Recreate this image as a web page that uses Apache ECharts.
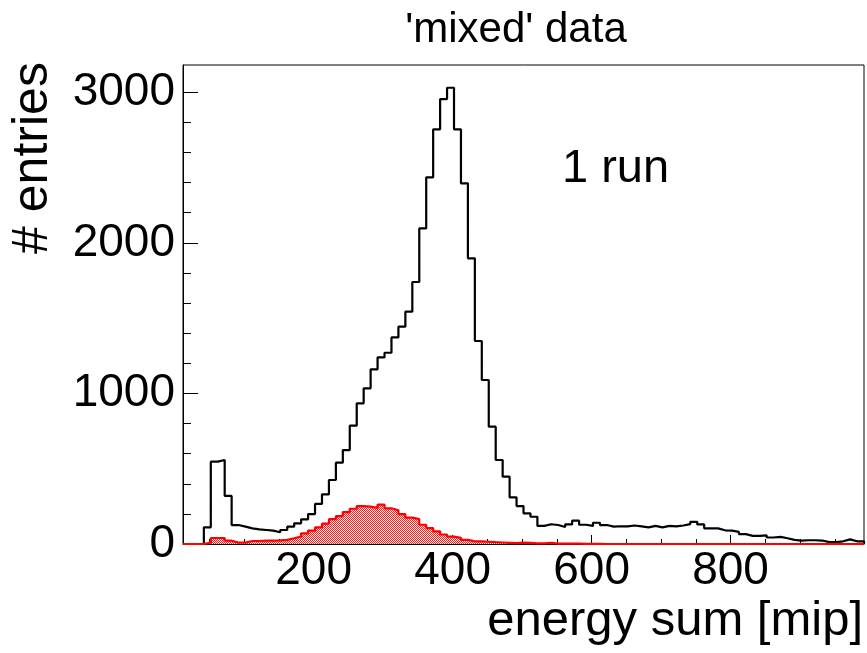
<!DOCTYPE html>
<html><head><meta charset="utf-8">
<script src="https://cdn.jsdelivr.net/npm/echarts@6/dist/echarts.min.js"></script>
<style>html,body{margin:0;padding:0;background:#fff}#c{width:867px;height:653px}</style>
</head><body><div id="c"></div>
<script>
// ---- data ----
const binStart = 12;          // lower edge of first bin [mip]
const binWidth = 10;          // bin width [mip]
const xRange = [12, 992];
const yRange = [0, 3181];
const xMajorTicks = [200, 400, 600, 800];
const xMinorTicks = [50,100,150,250,300,350,450,500,550,650,700,750,850,900,950];
const yMajorTicks = [0, 1000, 2000, 3000];
const yMinorTicks = [200,400,600,800,1200,1400,1600,1800,2200,2400,2600,2800];
// 'mixed' data, all events (black)
const mixedCounts = [
  0,0,0,111,547,558,319,126,115,104,
  97,93,89,78,93,115,137,164,199,266,
  330,425,540,624,786,934,1034,1160,1240,1270,
  1372,1443,1543,1740,2096,2435,2754,2955,3030,2754,
  2395,1897,1348,1089,779,558,447,310,252,204,
  181,120,131,126,113,130,155,128,120,141,
  126,115,118,117,123,117,110,120,110,120,
  117,123,132,147,130,104,104,91,89,80,
  66,54,54,57,43,47,38,27,23,25,
  25,23,12,12,18,31,18,18
];
// selected subsample (red, hatched)
const selectedCounts = [
  0,0,0,9,40,40,22,9,9,20,
  20,22,22,24,27,38,50,71,89,110,
  135,165,185,212,234,252,248,240,262,237,
  224,198,175,165,128,106,84,63,49,41,
  27,18,18,15,12,10,8,6,9,8,
  4,4,7,3,2,2,2,1,1,1,
  0,0,0,0,0,0,0,0,0,0,
  0,0,0,0,0,0,0,0,0,0,
  0,0,0,0,0,0,0,0,0,0,
  0,0,0,0,0,0,0,0
];
const titleText = "'mixed' data";
const xTitle = 'energy sum [mip]';
const yTitle = '# entries';
const noteText = '1 run';

// ---- build ----
function stepData(counts) {
  const pts = [[binStart, 0]];
  counts.forEach((c, i) => pts.push([binStart + i * binWidth, c]));
  pts.push([binStart + counts.length * binWidth, 0]);
  return pts;
}
const pat = document.createElement('canvas');
pat.width = 2; pat.height = 2;
const pctx = pat.getContext('2d');
pctx.fillStyle = '#ffffff'; pctx.fillRect(0, 0, 2, 2);
pctx.fillStyle = '#ff1a1a';
pctx.fillRect(0, 0, 1, 1); pctx.fillRect(1, 1, 1, 1);

const FF = '"Liberation Sans", Arial, Helvetica, sans-serif';
const plain = v => String(v);
const chart = echarts.init(document.getElementById('c'));
chart.setOption({
  animation: false,
  backgroundColor: '#fff',
  grid: { left: 183, top: 65, width: 681, height: 479, show: true, borderColor: '#000', borderWidth: 1, backgroundColor: 'transparent' },
  xAxis: [
    { type: 'value', min: xRange[0], max: xRange[1], position: 'bottom',
      axisLine: { show: true, onZero: false, lineStyle: { color: '#000', width: 1 } },
      axisTick: { show: true, inside: true, length: 9, customValues: xMajorTicks, lineStyle: { color: '#000' } },
      axisLabel: { show: true, customValues: xMajorTicks, formatter: plain, margin: 4, fontSize: 46, color: '#000', fontFamily: FF },
      splitLine: { show: false } },
    { type: 'value', min: xRange[0], max: xRange[1], position: 'bottom',
      axisLine: { show: false },
      axisTick: { show: true, inside: true, length: 5, customValues: xMinorTicks, lineStyle: { color: '#000' } },
      axisLabel: { show: false }, splitLine: { show: false } }
  ],
  yAxis: [
    { type: 'value', min: yRange[0], max: yRange[1], position: 'left',
      axisLine: { show: true, onZero: false, lineStyle: { color: '#000', width: 1 } },
      axisTick: { show: true, inside: true, length: 15, customValues: yMajorTicks, lineStyle: { color: '#000' } },
      axisLabel: { show: true, customValues: yMajorTicks, formatter: plain, margin: 8, fontSize: 46, color: '#000', fontFamily: FF, padding: [8, 0, 0, 0] },
      splitLine: { show: false } },
    { type: 'value', min: yRange[0], max: yRange[1], position: 'left',
      axisLine: { show: false },
      axisTick: { show: true, inside: true, length: 8, customValues: yMinorTicks, lineStyle: { color: '#000' } },
      axisLabel: { show: false }, splitLine: { show: false } }
  ],
  series: [
    { type: 'line', name: 'all', xAxisIndex: 0, yAxisIndex: 0, step: 'end', showSymbol: false, silent: true,
      data: stepData(mixedCounts), lineStyle: { color: '#000', width: 2.2 } },
    { type: 'line', name: 'selected', xAxisIndex: 0, yAxisIndex: 0, step: 'end', showSymbol: false, silent: true,
      data: stepData(selectedCounts), lineStyle: { color: '#ff0000', width: 2.2 },
      areaStyle: { color: { image: pat, repeat: 'repeat' }, opacity: 1 } }
  ],
  graphic: [
    { type: 'text', x: 516, y: 30, style: { text: titleText, fontSize: 42, fontFamily: FF, fill: '#000', align: 'center', verticalAlign: 'middle' } },
    { type: 'text', x: 562, y: 169, style: { text: noteText, fontSize: 47, fontFamily: FF, fill: '#000', align: 'left', verticalAlign: 'middle' } },
    { type: 'text', x: 863, y: 621, style: { text: xTitle, fontSize: 49, fontFamily: FF, fill: '#000', align: 'right', verticalAlign: 'middle' } },
    { type: 'text', x: 33, y: 158, rotation: Math.PI / 2, style: { text: yTitle, fontSize: 50, fontFamily: FF, fill: '#000', align: 'center', verticalAlign: 'middle' } }
  ]
});
</script></body></html>
